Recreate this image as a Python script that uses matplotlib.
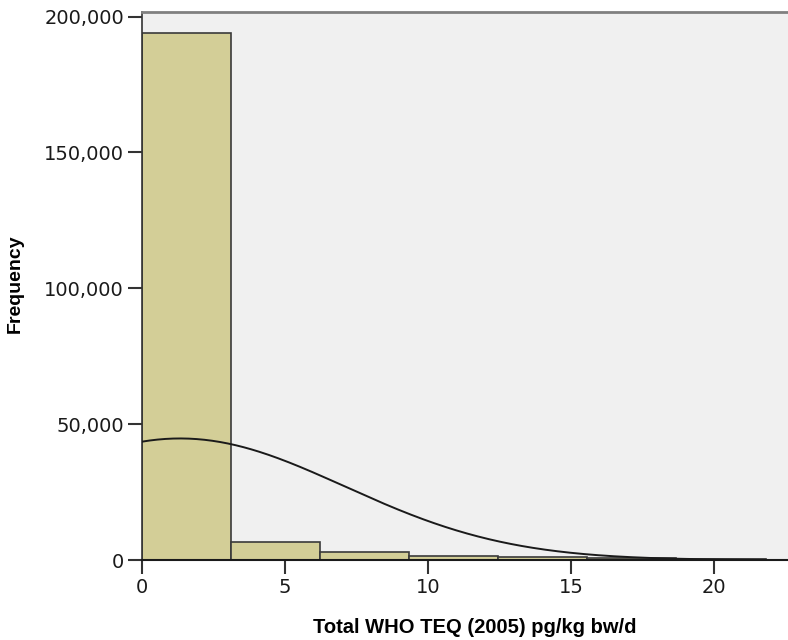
import numpy as np
import matplotlib.pyplot as plt
from matplotlib.ticker import FuncFormatter

# histogram bins (pg/kg bw/d) and counts per bin
bin_width = 3.115
bin_starts = [0, 3.115, 6.23, 9.345, 12.46, 15.575, 18.69]
counts = [193900, 6500, 2950, 1600, 1100, 600, 300]

# fitted normal curve parameters
mean = 1.33
std = 5.75

fig = plt.figure(figsize=(7.88, 6.4), dpi=100)
ax = fig.add_axes([0.1802, 0.125, 0.8198, 0.856])
ax.set_facecolor("#f0f0f0")

ax.bar(bin_starts, counts, width=bin_width, align="edge",
       color="#d3ce97", edgecolor="#3a3a3a", linewidth=1.2, zorder=2)

n_total = sum(counts)
xs = np.linspace(0, bin_starts[-1] + bin_width, 400)
ys = n_total * bin_width / (std * np.sqrt(2 * np.pi)) * np.exp(-(xs - mean) ** 2 / (2 * std ** 2))
ax.plot(xs, ys, color="#1a1a1a", linewidth=1.4, zorder=3)

ax.set_xlim(0, 22.59)
ax.set_ylim(0, 201600)
ax.set_xticks([0, 5, 10, 15, 20])
ax.set_yticks([0, 50000, 100000, 150000, 200000])
ax.yaxis.set_major_formatter(FuncFormatter(lambda v, p: f"{int(v):,}"))

ax.spines["right"].set_visible(False)
ax.spines["top"].set_color("#808080")
ax.spines["top"].set_linewidth(2)
ax.spines["left"].set_color("#333333")
ax.spines["left"].set_linewidth(1.2)
ax.spines["bottom"].set_color("#1a1a1a")
ax.spines["bottom"].set_linewidth(1.5)
ax.tick_params(axis="both", length=10, width=1.5, color="#333333",
               labelsize=14, labelcolor="#1a1a1a", pad=3)

ax.set_xlabel("Total WHO TEQ (2005) pg/kg bw/d", fontsize=14.5,
              fontweight="bold", family="Liberation Sans")
ax.set_ylabel("Frequency", fontsize=14, fontweight="bold",
              family="Liberation Sans")
ax.xaxis.set_label_coords(0.5147, -0.106)
ax.yaxis.set_label_coords(-0.1827, 0.5037)

fig.savefig("out.png", dpi=100)
